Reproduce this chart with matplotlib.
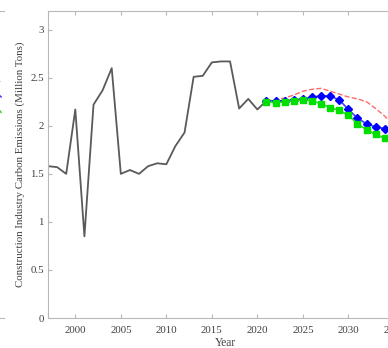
import matplotlib.pyplot as plt
import numpy as np

plt.rcParams['font.family'] = ['Liberation Serif', 'DejaVu Serif']

# historical emissions (million tons)
hist_years = list(range(1997, 2022))
hist_vals = [1.58, 1.57, 1.50, 2.17, 0.85, 2.22, 2.37, 2.60, 1.50, 1.54,
             1.50, 1.58, 1.61, 1.60, 1.79, 1.93, 2.51, 2.52, 2.66, 2.67,
             2.67, 2.18, 2.28, 2.17, 2.26]

# projections
proj_years = list(range(2021, 2036))
red_vals = [2.26, 2.27, 2.29, 2.32, 2.36, 2.38, 2.39, 2.36, 2.33, 2.30,
            2.28, 2.25, 2.18, 2.10, 2.00]
blue_vals = [2.26, 2.26, 2.26, 2.27, 2.28, 2.30, 2.31, 2.31, 2.27, 2.17,
             2.08, 2.02, 1.99, 1.97, 1.95]
green_vals = [2.25, 2.24, 2.25, 2.26, 2.27, 2.26, 2.23, 2.19, 2.16, 2.11,
              2.02, 1.96, 1.91, 1.87, 1.83]

# tail of the neighbouring panel (only its right end is visible)
prev_x = [0, 1]
prev_red = [2.52, 2.45]
prev_blue = [2.40, 2.30]
prev_green = [2.26, 2.14]

W, H = 388, 348
fig = plt.figure(figsize=(W / 100, H / 100), dpi=100)

spine_col = '#b8b8b8'
txt_col = '#404040'
fs = 7.8

# left neighbour fragment
ax0 = fig.add_axes([-200 / W, 30 / H, 204 / W, 307.5 / H])
ax0.plot(prev_x, prev_red, ':', color='#ff3030', lw=1)
ax0.plot(prev_x, prev_blue, '-', color='#3030ff', lw=1)
ax0.plot(prev_x, prev_green, '-', color='#20d020', lw=1)
ax0.set_xlim(-20, 1.3)
ax0.set_ylim(0, 3.2)
ax0.spines['right'].set_visible(False)
ax0.spines['left'].set_visible(False)
for s in ax0.spines.values():
    s.set_color(spine_col)
ax0.set_xticks([])
ax0.set_yticks([])

ax = fig.add_axes([48 / W, 30 / H, 355 / W, 307.5 / H])
ax.plot(hist_years, hist_vals, color='#5a5a5a', lw=1.3)
ax.plot(proj_years, red_vals, '--', color='#ff5050', lw=1, alpha=0.85)
ax.plot(proj_years, blue_vals, '-', color='#4040ff', lw=1.2,
        marker='D', ms=4, mfc='#0000ff', mec='#0000ff')
ax.plot(proj_years, green_vals, '-', color='#30e030', lw=1.2,
        marker='s', ms=4, mfc='#00e000', mec='#00e000')

ax.set_xlim(1997, 2036)
ax.set_ylim(0, 3.2)
ax.set_xticks(np.arange(2000, 2036, 5))
ax.set_yticks([0, 0.5, 1, 1.5, 2, 2.5, 3])
ax.set_yticklabels(['0', '0.5', '1', '1.5', '2', '2.5', '3'])
ax.tick_params(direction='in', top=True, right=True, length=3,
               color=spine_col, labelcolor=txt_col, labelsize=fs, pad=3)
ax.tick_params(axis='x', pad=6)
for s in ax.spines.values():
    s.set_color(spine_col)
ax.set_xlabel('Year', fontsize=fs + 0.5, color=txt_col, labelpad=1.5)
ax.set_ylabel('Construction Industry Carbon Emissions (Million Tons)',
              fontsize=fs, color=txt_col, labelpad=4)

plt.savefig('out.png', dpi=100)
